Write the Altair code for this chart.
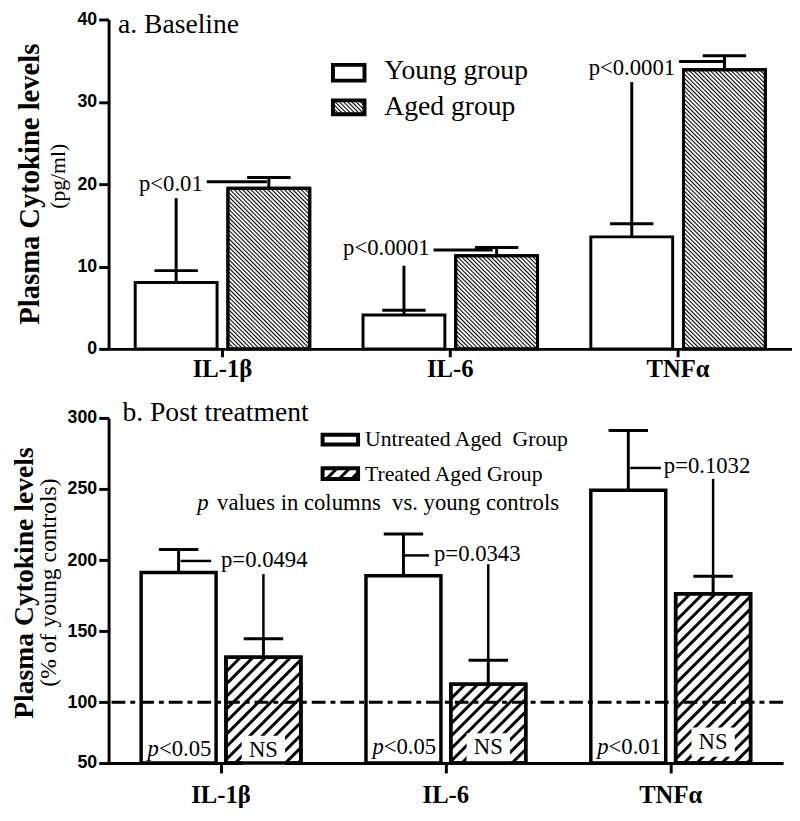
import base64
import altair as alt
import pandas as pd

SERIF = "Liberation Serif"
SANS = "Liberation Sans"

# ------------------------------------------------------------------ data
cytokines = ["IL-1β", "IL-6", "TNFα"]

# panel a: baseline (pg/ml)
title_a = "a. Baseline"
groups_a = ["Young group", "Aged group"]
young_mean = [8.05, 4.1, 13.6]
young_upper = [9.5, 4.7, 15.2]
aged_mean = [19.5, 11.3, 33.9]
aged_upper = [20.8, 12.3, 35.6]
p_labels_a = ["p<0.01", "p<0.0001", "p<0.0001"]
p_text_y_a = [20.0, 12.2, 34.1]
p_line_y_a = [20.3, 12.0, 34.9]
p_stem_top_a = [18.3, 10.1, 32.4]
y_ticks_a = [0, 10, 20, 30, 40]
y_title = "Plasma Cytokine levels"
y_sub_a = "(pg/ml)"

# panel b: post treatment (% of young controls)
title_b = "b. Post treatment"
groups_b = ["Untreated Aged\u00a0 Group", "Treated Aged Group"]
untreated_mean = [191.3, 189.0, 249.1]
untreated_upper = [207.5, 218.4, 291.2]
treated_mean = [131.7, 112.8, 176.3]
treated_upper = [144.7, 129.6, 188.6]
p_labels_b = ["p=0.0494", "p=0.0343", "p=0.1032"]
p_text_y_b = [199.9, 204.5, 266.2]
p_line_y_b = [199.4, 203.3, 264.8]
p_stem_top_b = [190.2, 197.1, 257.2]
in_col_p = ["<0.05", "<0.05", "<0.01"]
in_col_p_y = [66.8, 68.2, 68.8]
in_col_ns = ["NS", "NS", "NS"]
in_col_ns_y = [66.5, 68.2, 72.3]
y_ticks_b = [57.3, 100, 150, 200, 250, 300]
y_sub_b = "(% of young controls)"
note_p = "p"
note_rest = "values in columns\u00a0 vs. young controls"
reference_level = 100

# ------------------------------------------------------------------ layout / style
W_A, H_A = 693, 334          # plot area of panel a
W_B, H_B = 684, 350          # plot area of panel b
LEFT_A, TOP_A = 102.5, 14    # page position wanted for panel a plot origin
LEFT_B, TOP_B = 110, 418
BASE_B = 57.3

BAR_W_A, OFF_A = 83, 47
BAR_W_B, OFF_B = 76, 43
ANN_FS = 23


def hatch_url(spacing, width, angle):
    svg = (
        '<svg xmlns="http://www.w3.org/2000/svg" width="100%" height="100%">'
        '<defs><pattern id="h" patternUnits="userSpaceOnUse" '
        f'width="{spacing}" height="{spacing}" patternTransform="rotate({angle})">'
        f'<rect x="0" y="0" width="{width}" height="{spacing}" fill="black"/>'
        '</pattern></defs><rect width="100%" height="100%" fill="url(#h)"/></svg>'
    )
    return "data:image/svg+xml;base64," + base64.b64encode(svg.encode()).decode()


HATCH_A = hatch_url(3.0, 1.1, -45)
HATCH_B = hatch_url(9.0, 3.0, 45)

x_axis_common = dict(title=None, labelAngle=0, labelFont=SERIF, labelFontWeight="bold",
                     labelFontSize=25, labelColor="black", tickColor="black", tickWidth=3,
                     domainColor="black", domainWidth=3, bandPosition=0.5)

# ------------------------------------------------------------------ panel a
df_a = pd.DataFrame({
    "cytokine": cytokines * 2,
    "group": [groups_a[0]] * 3 + [groups_a[1]] * 3,
    "mean": young_mean + aged_mean,
    "upper": young_upper + aged_upper,
})

x_a = alt.X("cytokine:N", sort=cytokines,
            scale=alt.Scale(type="band", domain=cytokines, paddingInner=0, paddingOuter=0),
            axis=alt.Axis(tickSize=8, labelPadding=0, **x_axis_common))
scale_a = alt.Scale(domain=[0, 40], nice=False, zero=True)
axis_a = alt.Axis(values=y_ticks_a, title=y_title, titleFont=SERIF, titleFontSize=29,
                  titleFontWeight="bold", titleColor="black", titleAngle=270,
                  titleBaseline="alphabetic", titleAlign="center", titleX=31 - LEFT_A,
                  titleY=180.5 - TOP_A,
                  labelFont=SANS, labelFontWeight="bold", labelFontSize=18, labelColor="black",
                  labelPadding=2, tickSize=10, tickWidth=3, tickColor="black",
                  domainColor="black", domainWidth=3, grid=False)


def ya(field):
    return alt.Y(field, scale=scale_a, axis=axis_a)


base_a = alt.Chart(df_a)
layers_a = []
for g, off in zip(groups_a, [-OFF_A, OFF_A]):
    sub = base_a.transform_filter(alt.datum.group == g)
    layers_a.append(sub.mark_bar(width=BAR_W_A, xOffset=off, fill="white", stroke="black",
                                 strokeWidth=3).encode(x=x_a, y=ya("mean:Q"), y2=alt.datum(0)))
    if g == groups_a[1]:
        layers_a.append(sub.mark_image(width=BAR_W_A, xOffset=off, aspect=False).encode(
            x=x_a, y=ya("mean:Q"), y2=alt.datum(0), url=alt.value(HATCH_A)))
        layers_a.append(sub.mark_bar(width=BAR_W_A, xOffset=off, fillOpacity=0, stroke="black",
                                     strokeWidth=3).encode(x=x_a, y=ya("mean:Q"), y2=alt.datum(0)))
    layers_a.append(sub.mark_rule(xOffset=off, color="black", strokeWidth=3).encode(
        x=x_a, y=ya("mean:Q"), y2="upper:Q"))
    layers_a.append(sub.mark_tick(orient="horizontal", xOffset=off, color="black", size=44,
                                  thickness=3, opacity=1).encode(x=x_a, y=ya("upper:Q")))

txt_dx_a = [-20, -21, -3]
line_cx_a = [14.5, 13, 24.5]
line_len_a = [61, 60, 47]
for i, c in enumerate(cytokines):
    row = pd.DataFrame({"cytokine": [c], "label": [p_labels_a[i]], "ty": [p_text_y_a[i]],
                        "ly": [p_line_y_a[i]], "s0": [young_upper[i]], "s1": [p_stem_top_a[i]]})
    ch = alt.Chart(row)
    layers_a += [
        ch.mark_text(align="right", baseline="middle", dx=txt_dx_a[i], font=SERIF,
                     fontSize=ANN_FS, color="black").encode(x=x_a, y=ya("ty:Q"), text="label:N"),
        ch.mark_tick(orient="horizontal", color="black", size=line_len_a[i], thickness=3,
                     xOffset=line_cx_a[i], opacity=1).encode(x=x_a, y=ya("ly:Q")),
        ch.mark_rule(color="black", strokeWidth=3, xOffset=-OFF_A).encode(
            x=x_a, y=ya("s0:Q"), y2="s1:Q"),
    ]

# invisible anchor that fixes the panel's outer bounds (page origin)
anchor_a = pd.DataFrame({"a": [0]})
layers_a.append(alt.Chart(anchor_a).mark_rule(opacity=0, strokeWidth=1).encode(
    x=alt.value(-LEFT_A), y=alt.value(-TOP_A), y2=alt.value(388 - TOP_A)))

lab_a = pd.DataFrame({"t": [title_a]})
layers_a.append(alt.Chart(lab_a).mark_text(align="left", baseline="alphabetic", font=SERIF,
                                           fontSize=28, color="black").encode(
    x=alt.value(112 - LEFT_A), y=alt.value(28 - TOP_A), text="t:N"))
sub_a = pd.DataFrame({"t": [y_sub_a]})
layers_a.append(alt.Chart(sub_a).mark_text(angle=270, align="center", baseline="middle",
                                           font=SERIF, fontSize=22, color="black").encode(
    x=alt.value(51 - LEFT_A), y=alt.value(173 - TOP_A), text="t:N"))

leg_a = pd.DataFrame({"t": groups_a})
SW_X0, SW_X1 = 330 - LEFT_A, 362 - LEFT_A
layers_a += [
    alt.Chart(leg_a.iloc[[0]]).mark_rect(fill="white", stroke="black", strokeWidth=4).encode(
        x=alt.value(SW_X0), x2=alt.value(SW_X1), y=alt.value(60 - TOP_A), y2=alt.value(76 - TOP_A)),
    alt.Chart(leg_a.iloc[[1]]).mark_image(aspect=False).encode(
        x=alt.value(SW_X0), x2=alt.value(SW_X1), y=alt.value(96 - TOP_A), y2=alt.value(110 - TOP_A),
        url=alt.value(HATCH_A)),
    alt.Chart(leg_a.iloc[[1]]).mark_rect(fillOpacity=0, stroke="black", strokeWidth=4).encode(
        x=alt.value(SW_X0), x2=alt.value(SW_X1), y=alt.value(96 - TOP_A), y2=alt.value(110 - TOP_A)),
    alt.Chart(leg_a.iloc[[0]]).mark_text(align="left", baseline="alphabetic", font=SERIF,
                                         fontSize=28, color="black").encode(
        x=alt.value(382 - LEFT_A), y=alt.value(74 - TOP_A), text="t:N"),
    alt.Chart(leg_a.iloc[[1]]).mark_text(align="left", baseline="alphabetic", font=SERIF,
                                         fontSize=28, color="black").encode(
        x=alt.value(382 - LEFT_A), y=alt.value(111 - TOP_A), text="t:N"),
]

top = alt.layer(*layers_a).properties(width=W_A, height=H_A)

# ------------------------------------------------------------------ panel b
df_b = pd.DataFrame({
    "cytokine": cytokines * 2,
    "group": [groups_b[0]] * 3 + [groups_b[1]] * 3,
    "mean": untreated_mean + treated_mean,
    "upper": untreated_upper + treated_upper,
})

x_b = alt.X("cytokine:N", sort=cytokines,
            scale=alt.Scale(type="band", domain=cytokines, paddingInner=0, paddingOuter=0),
            axis=alt.Axis(tickSize=10, labelPadding=10, **x_axis_common))
scale_b = alt.Scale(domain=[BASE_B, 300], nice=False, zero=False)
axis_b = alt.Axis(values=y_ticks_b, labelExpr="datum.value < 60 ? '50' : datum.label",
                  title=y_title, titleFont=SERIF, titleFontSize=28,
                  titleFontWeight="bold", titleColor="black", titleAngle=270,
                  titleBaseline="alphabetic", titleAlign="center", titleX=33 - LEFT_B,
                  titleY=585 - TOP_B,
                  labelFont=SANS, labelFontWeight="bold", labelFontSize=18, labelColor="black",
                  labelPadding=2, tickSize=10, tickWidth=3, tickColor="black",
                  domainColor="black", domainWidth=3, grid=False)


def yb(field):
    return alt.Y(field, scale=scale_b, axis=axis_b)


base_b = alt.Chart(df_b)
untreated_b = base_b.transform_filter(alt.datum.group == groups_b[0])
treated_b = base_b.transform_filter(alt.datum.group == groups_b[1])

ns_df = pd.DataFrame({"cytokine": cytokines, "t": in_col_ns, "ty": in_col_ns_y})
ns_df["lo"] = [v - 10.5 for v in in_col_ns_y]
ns_df["hi"] = [v + 10.0 for v in in_col_ns_y]

layers_b = [
    untreated_b.mark_bar(width=BAR_W_B, xOffset=-OFF_B, fill="white", stroke="black",
                         strokeWidth=3.5).encode(x=x_b, y=yb("mean:Q"), y2=alt.datum(BASE_B)),
    treated_b.mark_bar(width=BAR_W_B, xOffset=OFF_B, fill="white", stroke="black",
                       strokeWidth=3.5).encode(x=x_b, y=yb("mean:Q"), y2=alt.datum(BASE_B)),
    treated_b.mark_image(width=BAR_W_B, xOffset=OFF_B, aspect=False).encode(
        x=x_b, y=yb("mean:Q"), y2=alt.datum(BASE_B), url=alt.value(HATCH_B)),
    alt.Chart(ns_df).mark_bar(width=44, xOffset=OFF_B, fill="white").encode(
        x=x_b, y=yb("hi:Q"), y2="lo:Q"),
    treated_b.mark_bar(width=BAR_W_B, xOffset=OFF_B, fillOpacity=0, stroke="black",
                       strokeWidth=3.5).encode(x=x_b, y=yb("mean:Q"), y2=alt.datum(BASE_B)),
]
for sub, off in [(untreated_b, -OFF_B), (treated_b, OFF_B)]:
    layers_b.append(sub.mark_rule(xOffset=off, color="black", strokeWidth=3).encode(
        x=x_b, y=yb("mean:Q"), y2="upper:Q"))
    layers_b.append(sub.mark_tick(orient="horizontal", xOffset=off, color="black", size=40,
                                  thickness=3, opacity=1).encode(x=x_b, y=yb("upper:Q")))

layers_b += [
    alt.Chart(pd.DataFrame({"r": [reference_level]})).mark_rule(
        color="black", strokeWidth=3, strokeDash=[14, 5, 5, 5]).encode(y=yb("r:Q")),
    alt.Chart(ns_df).mark_text(dx=OFF_B, font=SERIF, fontSize=ANN_FS, color="black",
                               baseline="middle").encode(x=x_b, y=yb("ty:Q"), text="t:N"),
]

inp = pd.DataFrame({"cytokine": cytokines, "p": [note_p] * 3, "t": in_col_p, "ty": in_col_p_y})
layers_b += [
    alt.Chart(inp).mark_text(align="right", baseline="middle", dx=-63, font=SERIF,
                             fontStyle="italic", fontSize=ANN_FS, color="black").encode(
        x=x_b, y=yb("ty:Q"), text="p:N"),
    alt.Chart(inp).mark_text(align="left", baseline="middle", dx=-63, font=SERIF,
                             fontSize=ANN_FS, color="black").encode(
        x=x_b, y=yb("ty:Q"), text="t:N"),
]

txt_dx_b = [0, -12, -7]
line_cx_b = [-25.5, -30.5, -25.5]
line_len_b = [31, 27, 31]
for i, c in enumerate(cytokines):
    row = pd.DataFrame({"cytokine": [c], "label": [p_labels_b[i]], "ty": [p_text_y_b[i]],
                        "ly": [p_line_y_b[i]], "s0": [treated_upper[i]], "s1": [p_stem_top_b[i]]})
    ch = alt.Chart(row)
    layers_b += [
        ch.mark_text(align="left", baseline="middle", dx=txt_dx_b[i], font=SERIF,
                     fontSize=ANN_FS, color="black").encode(x=x_b, y=yb("ty:Q"), text="label:N"),
        ch.mark_tick(orient="horizontal", color="black", size=line_len_b[i], thickness=2.5,
                     xOffset=line_cx_b[i], opacity=1).encode(x=x_b, y=yb("ly:Q")),
        ch.mark_rule(color="black", strokeWidth=2.5, xOffset=OFF_B).encode(
            x=x_b, y=yb("s0:Q"), y2="s1:Q"),
    ]

anchor_b = pd.DataFrame({"a": [0]})
layers_b.append(alt.Chart(anchor_b).mark_rule(opacity=0, strokeWidth=1).encode(
    x=alt.value(-LEFT_B), y=alt.value(388 - TOP_B), y2=alt.value(H_B)))

lab_b = pd.DataFrame({"t": [title_b]})
layers_b.append(alt.Chart(lab_b).mark_text(align="left", baseline="alphabetic", font=SERIF,
                                           fontSize=28, color="black").encode(
    x=alt.value(124 - LEFT_B), y=alt.value(421 - TOP_B), text="t:N"))
sub_b = pd.DataFrame({"t": [y_sub_b]})
layers_b.append(alt.Chart(sub_b).mark_text(angle=270, align="center", baseline="middle",
                                           font=SERIF, fontSize=24, color="black").encode(
    x=alt.value(50 - LEFT_B), y=alt.value(585 - TOP_B), text="t:N"))

leg_b = pd.DataFrame({"t": groups_b})
note_df = pd.DataFrame({"p": [note_p], "t": [note_rest]})
SB_X0, SB_X1 = 327 - LEFT_B, 363 - LEFT_B
layers_b += [
    alt.Chart(leg_b.iloc[[0]]).mark_rect(fill="white", stroke="black", strokeWidth=4).encode(
        x=alt.value(SB_X0), x2=alt.value(SB_X1), y=alt.value(435 - TOP_B), y2=alt.value(445 - TOP_B)),
    alt.Chart(leg_b.iloc[[1]]).mark_image(aspect=False).encode(
        x=alt.value(SB_X0), x2=alt.value(SB_X1), y=alt.value(469 - TOP_B), y2=alt.value(480 - TOP_B),
        url=alt.value(HATCH_B)),
    alt.Chart(leg_b.iloc[[1]]).mark_rect(fillOpacity=0, stroke="black", strokeWidth=4).encode(
        x=alt.value(SB_X0), x2=alt.value(SB_X1), y=alt.value(469 - TOP_B), y2=alt.value(480 - TOP_B)),
    alt.Chart(leg_b.iloc[[0]]).mark_text(align="left", baseline="alphabetic", font=SERIF,
                                         fontSize=22, color="black").encode(
        x=alt.value(370 - LEFT_B), y=alt.value(447 - TOP_B), text="t:N"),
    alt.Chart(leg_b.iloc[[1]]).mark_text(align="left", baseline="alphabetic", font=SERIF,
                                         fontSize=22, color="black").encode(
        x=alt.value(370 - LEFT_B), y=alt.value(482 - TOP_B), text="t:N"),
    alt.Chart(note_df).mark_text(align="left", baseline="alphabetic", font=SERIF,
                                 fontStyle="italic", fontSize=23, color="black").encode(
        x=alt.value(200 - LEFT_B), y=alt.value(511 - TOP_B), text="p:N"),
    alt.Chart(note_df).mark_text(align="left", baseline="alphabetic", font=SERIF,
                                 fontSize=23, color="black").encode(
        x=alt.value(220 - LEFT_B), y=alt.value(511 - TOP_B), text="t:N"),
]

bottom = alt.layer(*layers_b).properties(width=W_B, height=H_B)

chart = alt.concat(top, bottom, columns=1, spacing=0, align="none").configure(
    padding={"left": -8, "top": -8, "right": 0, "bottom": 0},
    background="white",
).configure_view(stroke=None)

chart.save("out.html", embed_options={"renderer": "svg", "actions": False})
